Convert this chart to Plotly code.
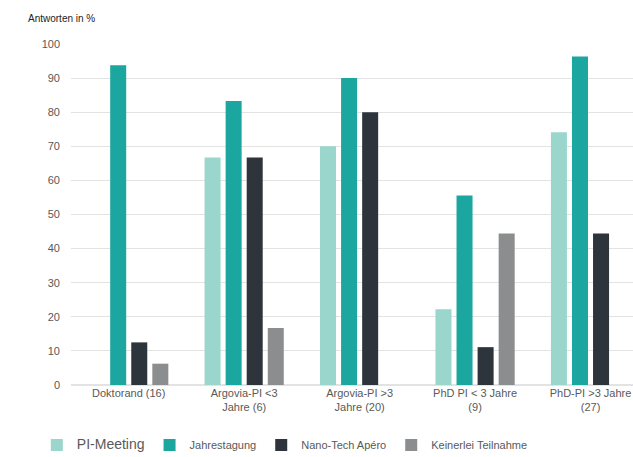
import plotly.graph_objects as go

categories = ["Doktorand (16)", "Argovia-PI <3<br>Jahre (6)", "Argovia-PI >3<br>Jahre (20)",
              "PhD PI < 3 Jahre<br>(9)", "PhD-PI >3 Jahre<br>(27)"]
pi_meeting = [0, 66.7, 70.0, 22.2, 74.1]
jahrestagung = [93.75, 83.3, 90.0, 55.6, 96.3]
nano_tech = [12.5, 66.7, 80.0, 11.1, 44.4]
keinerlei = [6.25, 16.7, 0, 44.4, 0]
y_ticks = [0, 10, 20, 30, 40, 50, 60, 70, 80, 90, 100]

series = [
    ('<span style="font-size:14px">PI-Meeting</span>', pi_meeting, "#9ad6cc"),
    ("Jahrestagung", jahrestagung, "#1ba69f"),
    ("Nano-Tech Apéro", nano_tech, "#2d343b"),
    ("Keinerlei Teilnahme", keinerlei, "#8b8d8f"),
]

fig = go.Figure()
for name, vals, col in series:
    fig.add_trace(go.Bar(x=categories, y=vals, name=name, marker_color=col,
                         marker_line_width=0))

fig.update_layout(
    width=633, height=457,
    margin=dict(l=71, r=0, t=44, b=72),
    paper_bgcolor="white", plot_bgcolor="white",
    barmode="group", bargap=0.27, bargroupgap=0.24,
    font=dict(family="Liberation Sans, Arial, sans-serif", color="#595959", size=11),
    xaxis=dict(range=[-0.5, 4.368], showgrid=False, showline=False, ticks="",
               tickfont=dict(size=11, color="#595959")),
    yaxis=dict(range=[0, 100], tickvals=y_ticks, showgrid=True, gridcolor="#e3e3e3",
               gridwidth=1, zeroline=True, zerolinecolor="#e3e3e3", showline=False,
               ticks="", ticklabelstandoff=10, tickfont=dict(size=11, color="#595959")),
    legend=dict(orientation="h", xref="container", yref="container",
                x=0.45, xanchor="center", y=12 / 457, yanchor="middle",
                font=dict(size=11, color="#595959"), itemwidth=30, tracegroupgap=0),
    annotations=[dict(text="Antworten in %", xref="paper", yref="paper",
                      x=0, xanchor="left", xshift=-45, y=1 + 26 / 341, yanchor="middle",
                      showarrow=False, font=dict(size=10, color="#222222"))],
    showlegend=True,
)

fig.write_html("out.html")
